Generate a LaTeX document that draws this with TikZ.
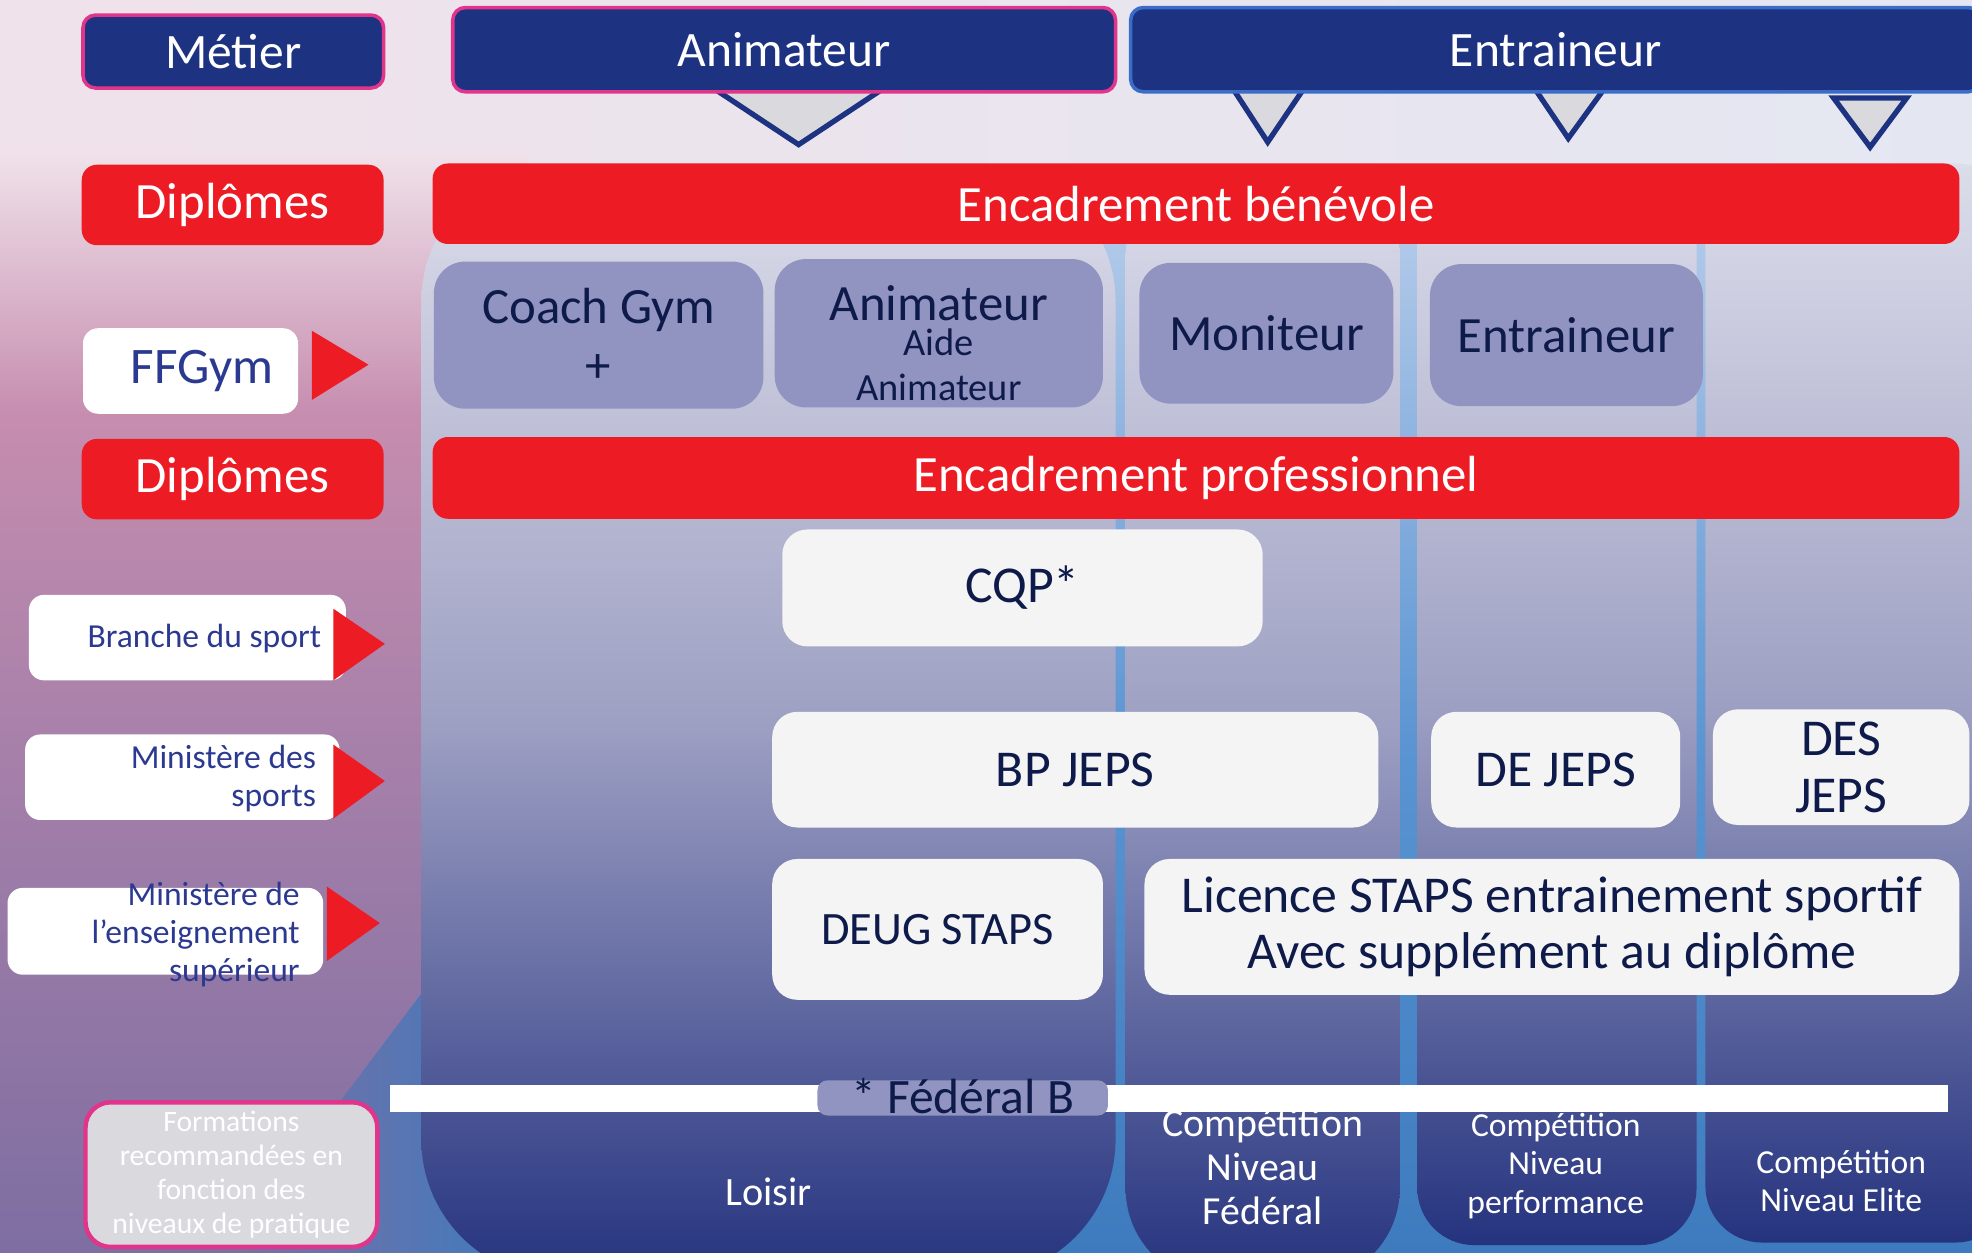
\documentclass[tikz,border=0pt]{standalone}
\usepackage{fontspec}
\setmainfont{Carlito}
\definecolor{navy}{HTML}{1E3282}
\definecolor{rosy}{HTML}{E0358A}
\definecolor{skyedge}{HTML}{3A6CC8}
\definecolor{redbar}{HTML}{ED1C24}
\definecolor{lavender}{HTML}{9194C1}
\definecolor{paper}{HTML}{F4F4F4}
\definecolor{ink}{HTML}{0E1A4A}
\definecolor{srcink}{HTML}{2B3990}
\definecolor{pickgray}{HTML}{D9D9DE}
\definecolor{paneltop}{HTML}{DCDDEA}
\definecolor{panelmid}{HTML}{9EA0C3}
\definecolor{panelbot}{HTML}{25337F}
\definecolor{gaptop}{HTML}{AFC8E8}
\definecolor{gapmid}{HTML}{5A94D2}
\definecolor{gapbot}{HTML}{3D7BBE}
\definecolor{bgpink}{HTML}{C68DAF}
\definecolor{bgplum}{HTML}{9F7DA8}
\definecolor{bgdusk}{HTML}{7E6EA2}
\definecolor{skyleft}{HTML}{F0E2EA}
\definecolor{skyright}{HTML}{E4E7F2}

\begin{document}
\begin{tikzpicture}[x=0.1mm, y=-0.1mm]
    \useasboundingbox (0,0) rectangle (1568,996);

    % background
    \shade[left color=skyleft, right color=skyright] (0,0) -- (1568,0) -- (1568,200) -- (420,200) -- (420,120) -- (0,120) -- cycle;
    \shade[top color=skyleft, bottom color=bgpink] (0,120) rectangle (420,330);
    \shade[top color=bgpink, bottom color=bgdusk, middle color=bgplum] (0,330) rectangle (420,996);
    \shade[left color=bgdusk, right color=gapbot] (180,996) -- (335,790) -- (420,790) -- (420,996) -- cycle;
    \shade[top color=gaptop, bottom color=gapbot, middle color=gapmid] (820,194) rectangle (1568,996);

    % columns
    \begin{scope}[panel/.style={top color=paneltop, bottom color=panelbot, middle color=panelmid}]
        \shade[panel, rounded corners=11mm] (335,130) rectangle (887,1016);
        \shade[panel, rounded corners=7.5mm] (895,130) rectangle (1113,1020);
        \shade[panel, rounded corners=4.5mm] (1127,130) rectangle (1349,990);
        \shade[panel, rounded corners=4.5mm] (1356,130) rectangle (1600,988);
    \end{scope}

    \begin{scope}[pick/.style={fill=pickgray, draw=navy, line width=1.2pt}]
        \filldraw[pick] (567,70) -- (703,70) -- (635,115) -- cycle;
        \filldraw[pick] (980,70) -- (1037,70) -- (1008,113) -- cycle;
        \filldraw[pick] (1220,70) -- (1276,70) -- (1247,110) -- cycle;
        \filldraw[pick] (1458,78) -- (1516,78) -- (1487,117) -- cycle;
    \end{scope}

    \begin{scope}[every node/.style={fill=navy, draw=rosy, line width=0.8pt, rounded corners=1mm, text=white, inner sep=0pt, font=\fontsize{11.2}{13}\selectfont}]
        \node[minimum width=23.9mm, minimum height=5.8mm] (H_1) at (185.5,41) {Métier};
        \node[minimum width=52.7mm, minimum height=6.7mm] (H_2) at (623.5,39.5) {Animateur};
        \node[draw=skyedge, minimum width=67.6mm, minimum height=6.7mm] (H_3) at (1237,39.5) {Entraineur};
    \end{scope}

    \begin{scope}[every node/.style={fill=redbar, rounded corners=1.2mm, text=white, inner sep=0pt, font=\fontsize{11.5}{13}\selectfont}]
        \node[minimum width=24mm, minimum height=6.4mm] (R_1) at (185,163) {Diplômes};
        \node[minimum width=121.4mm, minimum height=6.4mm] (R_2) at (951,162) {Encadrement bénévole};
        \node[minimum width=24mm, minimum height=6.4mm] (R_3) at (185,381) {Diplômes};
        \node[minimum width=121.4mm, minimum height=6.5mm] (R_4) at (951,380) {Encadrement professionnel};
    \end{scope}

    \begin{scope}[every node/.style={fill=lavender, rounded corners=2.5mm, text=ink, inner sep=0pt, align=center, font=\fontsize{11.5}{13.3}\selectfont}]
        \node[minimum width=26.2mm, minimum height=11.7mm] (F_1) at (476,266.5) {Coach Gym\\+};
        \node[minimum width=26.1mm, minimum height=11.8mm] (F_2) at (746.5,265) {\rule{0pt}{12.5pt}Animateur\\[-5.3pt]{\fontsize{8.7}{10}\selectfont Aide}\\[-3.1pt]{\fontsize{8.7}{10}\selectfont Animateur}};
        \node[minimum width=20.2mm, minimum height=11.2mm] (F_3) at (1007,265) {Moniteur};
        \node[minimum width=21.7mm, minimum height=11.3mm] (F_4) at (1245.5,266.5) {Entraineur};
    \end{scope}

    \begin{scope}[every node/.style={fill=paper, rounded corners=2mm, text=ink, inner sep=0pt, align=center, font=\fontsize{11.7}{12.8}\selectfont}]
        \node[minimum width=38.2mm, minimum height=9.3mm] (D_1) at (813,467.5) {CQP*};
        \node[minimum width=48.2mm, minimum height=9.2mm] (D_2) at (855,612) {BP JEPS};
        \node[minimum width=19.8mm, minimum height=9.2mm] (D_3) at (1237,612) {DE JEPS};
        \node[minimum width=20.4mm, minimum height=9.2mm] (D_4) at (1464,610) {DES\\JEPS};
        \node[minimum width=26.3mm, minimum height=11.2mm, font=\fontsize{10.5}{12}\selectfont] (D_5) at (745.5,739) {DEUG STAPS};
        \node[minimum width=64.8mm, minimum height=10.8mm] (D_6) at (1234,737) {Licence STAPS entrainement sportif\\Avec supplément au diplôme};
    \end{scope}

    % sources
    \begin{scope}[every node/.style={fill=white, rounded corners=1.2mm, inner sep=0pt}]
        \node[minimum width=17.1mm, minimum height=6.8mm] (S_1) at (151.5,295) {};
        \node[minimum width=25.2mm, minimum height=6.8mm] (S_2) at (149,507) {};
        \node[minimum width=25mm, minimum height=6.8mm] (S_3) at (145,618) {};
        \node[minimum width=25.1mm, minimum height=6.9mm] (S_4) at (131.5,740.5) {};
    \end{scope}

    \begin{scope}[every node/.style={text=srcink, align=right, inner sep=0pt, anchor=east, font=\fontsize{7.6}{8.6}\selectfont}]
        \node[font=\fontsize{11.6}{13}\selectfont] (T_1) at (218,295) {FFGym};
        \node (T_2) at (256,508) {Branche du sport};
        \node (T_3) at (252,619) {Ministère des\\sports};
        \node (T_4) at (239,743) {Ministère de\\l’enseignement\\supérieur};
    \end{scope}

    \begin{scope}[pointer/.style={fill=redbar}]
        \fill[pointer] (248,263) -- (293,290) -- (248,318) -- cycle;
        \fill[pointer] (265,484) -- (306,512) -- (265,541) -- cycle;
        \fill[pointer] (265,592) -- (306,621) -- (265,651) -- cycle;
        \fill[pointer] (260,705) -- (302,734) -- (260,764) -- cycle;
    \end{scope}

    % levels
    \begin{scope}[every node/.style={text=white, align=center, inner sep=0pt}]
        \node[font=\fontsize{9.1}{10}\selectfont] (L_1) at (611,948) {Loisir};
        \node[font=\fontsize{9}{10}\selectfont] (L_2) at (1004,928) {Compétition\\Niveau\\Fédéral};
        \node[font=\fontsize{7.6}{8.7}\selectfont] (L_3) at (1237,927) {Compétition\\Niveau\\performance};
        \node[font=\fontsize{7.6}{8.5}\selectfont] (L_4) at (1464,939) {Compétition\\Niveau Elite};
    \end{scope}

    \fill[white] (310,863) rectangle (1549,884);
    \node[fill=lavender, rounded corners=0.8mm, text=ink, inner sep=0pt, minimum width=23.1mm, minimum height=2.8mm, text height=7.2pt, text depth=0pt, font=\fontsize{11.2}{12}\selectfont] (B) at (765.5,873) {* Fédéral B};

    \node[fill=pickgray, draw=rosy, line width=1pt, rounded corners=2mm, text=white, align=center, inner sep=0pt, minimum width=23.2mm, minimum height=11.5mm, font=\fontsize{6.7}{7.7}\selectfont] (N) at (184,934) {Formations\\recommandées en\\fonction des\\niveaux de pratique};
\end{tikzpicture}
\end{document}
